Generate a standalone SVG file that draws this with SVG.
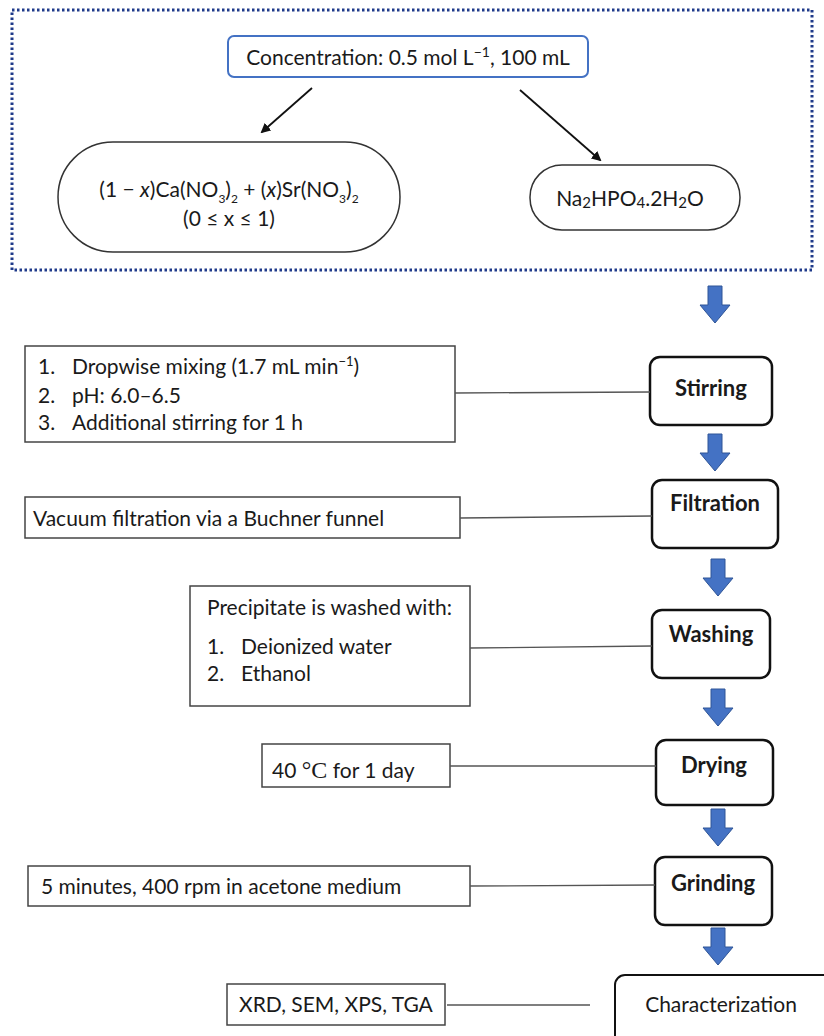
<svg xmlns="http://www.w3.org/2000/svg" width="824" height="1036" viewBox="0 0 824 1036">
<defs>
<style>
text{font-family:Lato,"Open Sans","Liberation Sans",sans-serif;fill:#1a1a1a;font-size:21px}
.b{font-weight:bold;font-size:22px}
.c{text-anchor:middle}
.box{fill:#fff;stroke:#444;stroke-width:1.5}
.step{fill:#fff;stroke:#111;stroke-width:2.5}
.conn{stroke:#555;stroke-width:1.3;fill:none}
.blk{fill:#4472C4;stroke:#2F5597;stroke-width:1}
</style>
<marker id="ah" markerWidth="10" markerHeight="10" refX="8" refY="5" orient="auto" markerUnits="userSpaceOnUse">
<path d="M0,0 L10,5 L0,10 Z" fill="#111"/>
</marker>
<path id="barrow" d="M-7,0 H7 V19 H15 L0,37 L-15,19 H-7 Z"/>
</defs>

<g id="frame">
<rect x="12" y="10" width="800" height="260" fill="none" stroke="#1F3A8A" stroke-width="3" stroke-dasharray="2.5 2.5"/>
</g>

<g id="concentration">
<rect x="228" y="36" width="360" height="41" rx="6" fill="#fff" stroke="#4472C4" stroke-width="2"/>
<text x="408" y="65" class="c" font-size="23">Concentration: 0.5 mol L<tspan font-size="14" dy="-8">−1</tspan><tspan dy="8">, 100 mL</tspan></text>
</g>

<g id="nitrates">
<rect x="58" y="142" width="342" height="110" rx="55" fill="#fff" stroke="#333" stroke-width="1.5"/>
<text x="229" y="197" class="c" font-size="20">(1 − <tspan font-style="italic">x</tspan>)Ca(NO<tspan font-size="12" dy="6">3</tspan><tspan dy="-6">)</tspan><tspan font-size="12" dy="6">2</tspan><tspan dy="-6"> + (</tspan><tspan font-style="italic">x</tspan>)Sr(NO<tspan font-size="12" dy="6">3</tspan><tspan dy="-6">)</tspan><tspan font-size="12" dy="6">2</tspan></text>
<text x="229" y="226" class="c" font-size="20">(0 ≤ x ≤ 1)</text>
</g>

<g id="phosphate">
<rect x="530" y="165" width="210" height="65" rx="32" fill="#fff" stroke="#333" stroke-width="1.5"/>
<text x="630" y="206" class="c" font-size="22">Na<tspan font-size="15" dy="2">2</tspan><tspan dy="-2">HPO</tspan><tspan font-size="15" dy="2">4</tspan><tspan dy="-2">.2H</tspan><tspan font-size="15" dy="2">2</tspan><tspan dy="-2">O</tspan></text>
</g>

<g id="stirring">
<rect x="650" y="357" width="122" height="68" rx="10" class="step"/>
<text x="711" y="396" class="c b">Stirring</text>
</g>
<g id="stirring-note">
<rect x="25" y="346" width="430" height="96" class="box"/>
<text x="38" y="374">1.</text><text x="72" y="374">Dropwise mixing (1.7  mL min<tspan font-size="13" dy="-8">−1</tspan><tspan dy="8">)</tspan></text>
<text x="38" y="403">2.</text><text x="72" y="403">pH: 6.0–6.5</text>
<text x="38" y="430">3.</text><text x="72" y="430">Additional stirring for 1 h</text>
</g>

<g id="filtration">
<rect x="652" y="480" width="126" height="68" rx="10" class="step"/>
<text x="715" y="511" class="c b">Filtration</text>
</g>
<g id="filtration-note">
<rect x="25" y="497" width="435" height="41" class="box"/>
<text x="33" y="526" font-size="22">Vacuum filtration via a Buchner funnel</text>
</g>

<g id="washing">
<rect x="652" y="610" width="118" height="68" rx="10" class="step"/>
<text x="711" y="642" class="c b">Washing</text>
</g>
<g id="washing-note">
<rect x="190" y="586" width="280" height="120" class="box"/>
<text x="207" y="615">Precipitate is washed with:</text>
<text x="207" y="654">1.</text><text x="241" y="654">Deionized water</text>
<text x="207" y="681">2.</text><text x="241" y="681">Ethanol</text>
</g>

<g id="drying">
<rect x="656" y="740" width="117" height="65" rx="10" class="step"/>
<text x="714" y="773" class="c b">Drying</text>
</g>
<g id="drying-note">
<rect x="262" y="744" width="188" height="43" class="box"/>
<text x="272" y="778" font-size="22">40 <tspan font-family="'Liberation Serif',serif" font-size="24">°C</tspan> for 1 day</text>
</g>

<g id="grinding">
<rect x="655" y="857" width="117" height="68" rx="10" class="step"/>
<text x="713" y="891" class="c b">Grinding</text>
</g>
<g id="grinding-note">
<rect x="28" y="866" width="442" height="40" class="box"/>
<text x="41" y="894">5 minutes, 400 rpm in acetone medium</text>
</g>

<g id="characterization">
<rect x="615" y="975" width="220" height="70" rx="10" fill="#fff" stroke="#111" stroke-width="2"/>
<text x="721" y="1012" class="c" font-size="20">Characterization</text>
</g>
<g id="characterization-note">
<rect x="227" y="984" width="218" height="41" class="box"/>
<text x="239" y="1012" font-size="17.5">XRD, SEM, XPS, TGA</text>
</g>

<g id="connectors">
<line x1="312" y1="88" x2="262" y2="132" stroke="#111" stroke-width="1.8" marker-end="url(#ah)"/>
<line x1="520" y1="90" x2="600" y2="160" stroke="#111" stroke-width="1.8" marker-end="url(#ah)"/>
<line x1="455" y1="393" x2="650" y2="392" class="conn"/>
<line x1="460" y1="518" x2="652" y2="516" class="conn"/>
<line x1="470" y1="648" x2="652" y2="646" class="conn"/>
<line x1="450" y1="766" x2="656" y2="766" class="conn"/>
<line x1="470" y1="886" x2="655" y2="885" class="conn"/>
<line x1="447" y1="1005" x2="590" y2="1005" class="conn"/>
<use href="#barrow" x="715" y="286" class="blk"/>
<use href="#barrow" x="715" y="434" class="blk"/>
<use href="#barrow" x="718" y="559" class="blk"/>
<use href="#barrow" x="718" y="689" class="blk"/>
<use href="#barrow" x="718" y="809" class="blk"/>
<use href="#barrow" x="718" y="928" class="blk"/>
</g>
</svg>
